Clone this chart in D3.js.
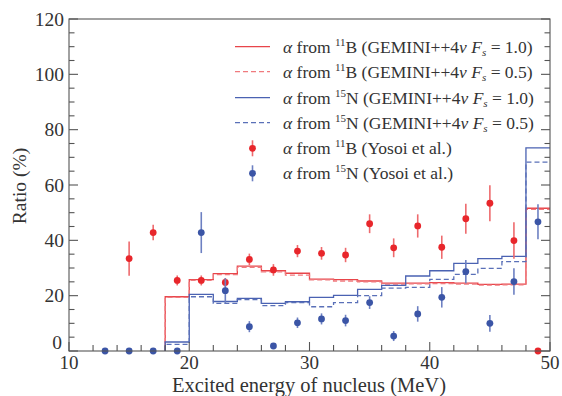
<!DOCTYPE html>
<html><head><meta charset="utf-8">
<script src="https://cdn.jsdelivr.net/npm/d3@7"></script>
<style>body{margin:0;background:#fff}svg{display:block}</style>
</head><body><svg id="c" width="562" height="396"></svg>
<script>
// ---- data ----
const binEdges = [18,20,22,24,26,28,30,32,34,36,38,40,42,44,46,48,50];
const red10  = [19.6,25.8,28.0,30.7,29.0,28.1,26.0,25.8,25.3,24.5,24.5,24.7,24.5,24.1,24.2,51.6];
const red05  = [19.4,25.5,27.6,30.2,28.6,27.4,25.7,25.3,25.0,24.2,24.3,24.4,24.2,23.8,23.9,51.2];
const blue10 = [3.25,20.5,17.9,19.0,17.2,17.8,19.4,20.1,22.3,23.7,27.1,29.0,31.7,33.4,34.2,73.4];
const blue05 = [2.4,19.6,17.2,18.6,16.4,17.5,16.0,17.5,20.0,22.7,23.0,25.9,27.7,29.9,32.3,68.3];
const redE   = [15,17,19,21,23,25,27,29,31,33,35,37,39,41,43,45,47,49];
const redV   = [33.4,42.8,25.5,25.5,24.8,33.1,29.3,36.1,35.3,34.7,46.0,37.3,45.2,37.5,47.8,53.4,39.9,0];
const redErr = [6.2,2.8,1.8,1.8,1.6,2.1,2.1,2.2,2.3,2.6,3.4,3.4,4.2,4.2,5.4,6.5,6.6,0];
const blueE  = [13,15,17,19,21,23,25,27,29,31,33,35,37,39,41,43,45,47,49];
const blueV  = [0,0,0,0,42.8,21.8,8.8,1.8,10.2,11.6,11.0,17.5,5.4,13.4,19.4,28.7,10.0,25.1,46.7];
const blueErr= [0,0,0,0,7.4,4.5,2.0,0.8,1.9,2.0,2.1,2.3,1.8,2.8,3.7,4.2,3.0,4.8,6.3];
const xMajor = [10,20,30,40,50];
const yMajor = [0,20,40,60,80,100,120];
const legendLabels = [
  {iso:"11", el:"B", kind:"g", fs:"1.0"},
  {iso:"11", el:"B", kind:"g", fs:"0.5"},
  {iso:"15", el:"N", kind:"g", fs:"1.0"},
  {iso:"15", el:"N", kind:"g", fs:"0.5"},
  {iso:"11", el:"B", kind:"y"},
  {iso:"15", el:"N", kind:"y"}
];

// ---- layout ----
const svg = d3.select("#c");
const FONT = "Liberation Serif";
const L=69, R=550, T=19, B=351;
const x = d3.scaleLinear().domain([10,50]).range([L,R]);
const y = d3.scaleLinear().domain([0,120]).range([B,T]);
const RED="#e8262b", BLUE="#3b55a6";
const axisCol="#555", txtCol="#333";
function txt(sel,size){ return sel.append("text").style("font-family",FONT).style("font-size",size+"px").attr("fill",txtCol); }

// histograms
function histPts(vals){
  const p=[[binEdges[0],0]];
  vals.forEach((v,i)=>{p.push([binEdges[i],v]);p.push([binEdges[i+1],v]);});
  return p;
}
const line = d3.line().x(d=>x(d[0])).y(d=>y(d[1]));
const hists = [
  {v:red10, c:"#e8454a", d:null},
  {v:red05, c:"#f07a7e", d:"5,3"},
  {v:blue10,c:"#4a62b2", d:null},
  {v:blue05,c:"#5a70b8", d:"5,3"}
];
hists.forEach(h=>{
  svg.append("path").attr("d",line(histPts(h.v))).attr("fill","none")
    .attr("stroke",h.c).attr("stroke-width",1.3).attr("stroke-dasharray",h.d);
});

// points
function drawPts(E,V,Er,c,cl){
  const g=svg.append("g");
  E.forEach((e,i)=>{
    if(Er[i]>0) g.append("line").attr("x1",x(e)).attr("x2",x(e)).attr("y1",y(V[i]-Er[i])).attr("y2",y(V[i]+Er[i]))
      .attr("stroke",cl).attr("stroke-width",1.6);
    g.append("circle").attr("cx",x(e)).attr("cy",y(V[i])).attr("r",3.4).attr("fill",c);
  });
}
drawPts(redE,redV,redErr,RED,"#ee6a6d");
drawPts(blueE,blueV,blueErr,BLUE,"#6d80c2");

// frame & ticks
const fr=svg.append("g").attr("stroke",axisCol).attr("stroke-width",1.1).attr("fill","none");
fr.append("rect").attr("x",L).attr("y",T).attr("width",R-L).attr("height",B-T);
d3.range(10,50.01,2).forEach(v=>{
  const len = (v%10===0)?9:6;
  fr.append("line").attr("x1",x(v)).attr("x2",x(v)).attr("y1",B).attr("y2",B-len);
});
d3.range(0,120.01,5).forEach(v=>{
  const len = (v%20===0)?9:5.5;
  fr.append("line").attr("x1",L).attr("x2",L+len).attr("y1",y(v)).attr("y2",y(v));
  fr.append("line").attr("x1",R).attr("x2",R-len).attr("y1",y(v)).attr("y2",y(v));
});
// tick labels
xMajor.forEach(v=>txt(svg,19).attr("x",x(v)).attr("y",369).attr("text-anchor","middle").text(v));
yMajor.forEach(v=>txt(svg,19.5).attr("x",v===0?62:64).attr("y",y(v)+6.5-(v===0?9:0)).attr("text-anchor","end").text(v));
// axis titles
txt(svg,20.5).attr("x",309).attr("y",391.5).attr("text-anchor","middle").text("Excited energy of nucleus (MeV)");
txt(svg,19.5).attr("transform","translate(26,186) rotate(-90)").attr("text-anchor","middle").text("Ratio (%)");

// legend
const rowY=[46.7,71.7,97.7,122.7,148.3,173.3];
const legStyles=[
  {c:"#e8454a",d:null},{c:"#f07a7e",d:"5,3"},{c:"#4a62b2",d:null},{c:"#5a70b8",d:"5,3"},
  {pt:RED,pl:"#ee6a6d"},{pt:BLUE,pl:"#6d80c2"}
];
legendLabels.forEach((lab,i)=>{
  const yy=rowY[i], s=legStyles[i];
  if(s.c){
    svg.append("line").attr("x1",235).attr("x2",270).attr("y1",yy).attr("y2",yy).attr("stroke",s.c).attr("stroke-width",1.3).attr("stroke-dasharray",s.d);
  } else {
    svg.append("line").attr("x1",252.5).attr("x2",252.5).attr("y1",yy-8).attr("y2",yy+8).attr("stroke",s.pl).attr("stroke-width",1.6);
    svg.append("circle").attr("cx",252.5).attr("cy",yy).attr("r",3.4).attr("fill",s.pt);
  }
  const t=txt(svg,17.5).attr("x",283).attr("y",yy+6);
  t.append("tspan").attr("font-style","italic").text("α");
  t.append("tspan").text(" from ");
  t.append("tspan").style("font-size","11px").attr("dy",-7).text(lab.iso);
  t.append("tspan").attr("dy",7).text(lab.el+" (");
  if(lab.kind==="g"){
    t.append("tspan").text("GEMINI++4");
    t.append("tspan").attr("font-style","italic").text("ν ");
    t.append("tspan").attr("font-style","italic").text("F");
    t.append("tspan").attr("font-style","italic").style("font-size","11px").attr("dy",3).text("s");
    t.append("tspan").attr("dy",-3).text(" = "+lab.fs+")");
  } else {
    t.append("tspan").text("Yosoi et al.)");
  }
});
</script></body></html>
